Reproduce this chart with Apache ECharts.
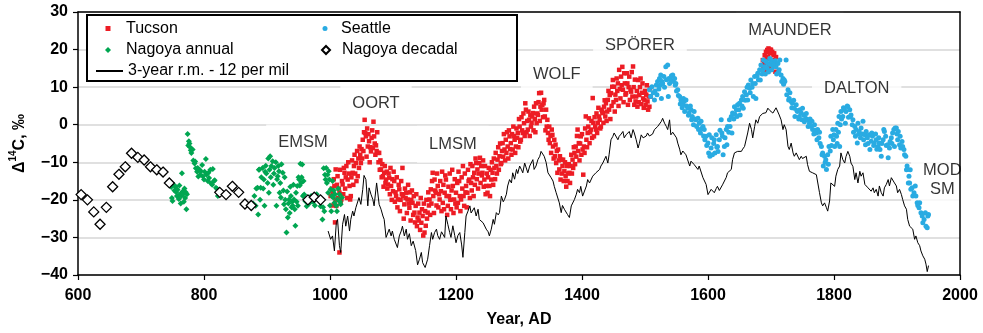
<!DOCTYPE html>
<html>
<head>
<meta charset="utf-8">
<script src="https://cdn.jsdelivr.net/npm/echarts/dist/echarts.min.js"></script>
<style>
  html, body { margin: 0; padding: 0; background: #fff; }
  #chart { width: 983px; height: 333px; }
</style>
</head>
<body>
<div id="chart"></div>
<script>
// Tucson annual (year, D14C)
const tucson = [
  [1001,-19],[1003,-17],[1004,-18.1],[1005,-21.5],[1006,-14.5],[1007,-16.3],[1008,-26],[1009,-11.9],[1009,-20],
  [1010,-21.6],[1011,-16],[1012,-13.7],[1013,-19.5],[1014,-17],[1015,-18.1],[1015,-34],[1016,-12],[1017,-20.8],[1018,-19.9],[1019,-15],
  [1020,-15.9],[1021,-18.5],[1022,-11.5],[1023,-12.8],[1024,-17],[1025,-14],[1026,-11],[1027,-19.5],[1028,-14.6],[1029,-10],
  [1030,-13],[1031,-16.3],[1032,-19.9],[1033,-19],[1034,-14],[1035,-9.5],[1036,-12.8],[1037,-16],[1038,-11],[1039,-8],
  [1040,-13],[1041,-10.2],[1042,-15],[1043,-7],[1044,-13.7],[1045,-9],[1046,-11.5],[1047,-5.8],[1048,-8],[1049,-10.2],
  [1050,-6.5],[1051,-9],[1052,-4],[1053,-7],[1054,-2],[1055,1.3],[1056,-2.2],[1057,-3.1],[1058,-8.5],[1059,-1],
  [1060,-5.8],[1061,-2.5],[1062,-4.4],[1063,-10],[1064,-6],[1065,-7.1],[1066,-3.5],[1067,-1.5],[1068,-6.2],[1069,0.8],
  [1070,-3.1],[1071,-5],[1072,-8],[1073,-5.5],[1074,-7],[1075,-2],[1076,-7.5],[1077,-10],[1078,-7.5],[1079,-12],
  [1080,-9.5],[1081,-11.9],[1082,-14],[1083,-10.5],[1084,-13.7],[1085,-16.5],[1086,-12.8],[1087,-11],[1088,-15.5],[1089,-14.6],
  [1090,-12.5],[1091,-17],[1092,-15.9],[1093,-13],[1094,-14.1],[1095,-18.5],[1096,-11.5],[1097,-16.3],[1098,-20],[1099,-14.5],
  [1100,-17.7],[1101,-12.5],[1102,-15],[1103,-20.5],[1104,-18],[1105,-19],[1106,-14],[1107,-22],[1108,-19.9],[1109,-16],
  [1110,-17.2],[1111,-23],[1112,-20],[1113,-15],[1114,-18.5],[1115,-11.5],[1116,-19],[1117,-25],[1118,-21.2],[1119,-17],
  [1120,-19.5],[1121,-18.1],[1122,-23.5],[1123,-19.9],[1124,-16],[1125,-21],[1126,-22.1],[1127,-18],[1128,-25.5],[1129,-20],
  [1130,-17.5],[1131,-20.8],[1132,-24],[1133,-19],[1134,-23.4],[1135,-26],[1136,-21.6],[1137,-18.5],[1138,-27],[1139,-24.7],
  [1140,-21],[1141,-25.5],[1142,-23.4],[1143,-28],[1144,-19.5],[1145,-26.1],[1146,-22.5],[1147,-24.3],[1148,-29.5],[1149,-21],
  [1150,-28.7],[1151,-23],[1152,-26.9],[1153,-20],[1154,-25],[1155,-23.4],[1156,-18],[1157,-21.5],[1158,-19.9],[1159,-24],
  [1160,-17.2],[1161,-21],[1162,-15],[1163,-12.8],[1164,-19],[1165,-23.5],[1166,-14.6],[1167,-17.5],[1168,-18.1],[1169,-21.5],
  [1170,-13],[1171,-16.3],[1172,-22],[1173,-18.5],[1174,-19.9],[1175,-15],[1176,-17.7],[1177,-23],[1178,-12.5],[1179,-20.8],
  [1180,-16],[1181,-22.5],[1182,-18.1],[1183,-13.5],[1184,-14.6],[1185,-19],[1186,-24],[1187,-21.6],[1188,-16.5],[1189,-19],
  [1190,-13],[1191,-20],[1192,-22.5],[1193,-17.5],[1194,-12],[1195,-16.3],[1196,-23.5],[1197,-19.9],[1198,-14.5],[1199,-21],
  [1200,-18.1],[1201,-22],[1202,-15.5],[1203,-20.8],[1204,-12.5],[1205,-15],[1206,-19],[1207,-23],[1208,-19.9],[1209,-14],
  [1210,-17],[1211,-11],[1212,-19],[1213,-21.6],[1214,-13],[1215,-18],[1216,-16.3],[1217,-22],[1218,-18.1],[1219,-12],
  [1220,-15],[1221,-14.6],[1222,-19.5],[1223,-10.5],[1224,-15.5],[1225,-17.5],[1226,-11],[1227,-14],[1228,-19],[1229,-12.8],
  [1230,-16],[1231,-9],[1232,-10.2],[1233,-14.5],[1234,-11.9],[1235,-17],[1236,-13],[1237,-10.2],[1238,-8.8],[1239,-15.5],
  [1240,-11],[1241,-13.5],[1242,-12.8],[1243,-9.5],[1244,-16.5],[1245,-14.6],[1246,-11],[1247,-18.5],[1248,-16.3],[1249,-13],
  [1250,-18.1],[1251,-14],[1252,-11.5],[1253,-16.3],[1254,-19],[1255,-12],[1256,-14.6],[1257,-10],[1258,-12.8],[1259,-16],
  [1260,-9],[1261,-11.5],[1262,-14.5],[1263,-7.5],[1264,-11],[1265,-13],[1266,-9.3],[1267,-6],[1268,-12],[1269,-8.4],
  [1270,-5],[1271,-10.5],[1272,-10.2],[1273,-7],[1274,-4.9],[1275,-8.5],[1276,-2.5],[1277,-6.6],[1278,-9.5],[1279,-4],
  [1280,-7.5],[1281,-2],[1282,-5.8],[1283,-9],[1284,-1.5],[1285,-3.1],[1286,-6.5],[1287,-4.9],[1288,-8],[1289,-2.5],
  [1290,-6.6],[1291,-0.5],[1292,-3],[1293,-4],[1294,-7.5],[1295,-5.8],[1296,-1],[1297,-3.5],[1298,-2.2],[1299,-6],
  [1300,1.5],[1301,-0.5],[1302,-4.5],[1303,-4],[1304,2],[1305,-1.5],[1306,-2.2],[1307,3],[1308,0.4],[1309,-3],
  [1310,5.7],[1311,4],[1312,-2],[1313,1],[1314,-1.3],[1315,3.5],[1316,1.3],[1317,-3],[1318,2.5],[1319,-0.5],
  [1320,0.5],[1321,2.2],[1322,3.1],[1323,-1.5],[1324,4.8],[1325,1.5],[1326,-2],[1327,5.7],[1328,0.4],[1329,3],
  [1330,2.6],[1331,6],[1332,8.4],[1333,1],[1334,4.8],[1335,8.5],[1336,4],[1337,5.3],[1338,2],[1339,5.7],
  [1340,6.6],[1341,2.2],[1342,-1.5],[1343,4],[1344,-0.5],[1345,1.3],[1346,-2.2],[1347,-4],[1348,-0.5],[1349,-4.9],
  [1350,-3],[1351,-7.5],[1352,-1.3],[1353,-2.7],[1354,-5.8],[1355,-9],[1356,-4],[1357,-8.4],[1358,-5.3],[1359,-10.2],
  [1360,-7],[1361,-12.8],[1362,-6.6],[1363,-9.5],[1364,-11.9],[1365,-8.4],[1366,-14.6],[1367,-9.3],[1368,-13],[1369,-11],
  [1370,-9.3],[1371,-15],[1372,-12.4],[1373,-10],[1374,-13.7],[1375,-16.5],[1376,-11],[1377,-15],[1378,-13],[1379,-10.5],
  [1380,-12.8],[1381,-15.5],[1382,-11],[1383,-8],[1384,-13],[1385,-9.3],[1386,-11.5],[1387,-6],[1388,-7.5],[1389,-10.5],
  [1390,-5.8],[1391,-8.5],[1392,-3],[1393,-1.3],[1394,-7],[1395,-4.9],[1396,-9.5],[1397,-5],[1398,-3.1],[1399,-8],
  [1400,-2.5],[1401,-6.6],[1402,-13.3],[1403,-5.8],[1404,-7.5],[1405,-1],[1406,2.2],[1407,-4],[1408,-6],[1409,-2.2],
  [1410,-0.5],[1411,1.7],[1412,-4.9],[1413,-2],[1414,-1.3],[1415,1],[1416,-3.5],[1417,7.1],[1418,0.5],[1419,-3.1],
  [1420,2],[1421,-0.5],[1422,-1.3],[1423,3],[1424,-2.2],[1425,0.5],[1426,4.5],[1427,2.2],[1428,1.3],[1429,-1],
  [1430,-0.5],[1431,4],[1432,3.5],[1433,3.1],[1434,0.5],[1435,4.8],[1436,6.5],[1437,2.2],[1438,5.7],[1439,1],
  [1440,3.5],[1441,6.6],[1442,9],[1443,4],[1444,7.9],[1445,1.5],[1446,8.4],[1447,5],[1448,10.1],[1449,11.9],
  [1450,6],[1451,10.1],[1452,3.5],[1453,8],[1454,6.6],[1455,12.3],[1456,9],[1457,11],[1458,5],[1459,14.6],
  [1460,9.5],[1461,7],[1462,12.8],[1463,10.5],[1464,15.4],[1465,9.3],[1466,6],[1467,13.7],[1468,11],[1469,8],
  [1470,8.4],[1471,13.7],[1472,11],[1473,5.3],[1474,10],[1475,12.8],[1476,6.6],[1477,9.3],[1478,8.8],[1479,14],
  [1480,7.5],[1481,15.5],[1482,10],[1483,5.3],[1484,12],[1485,6.2],[1486,7.5],[1487,9],[1488,4.8],[1489,11.9],
  [1490,6],[1491,7.9],[1492,10],[1493,12.3],[1494,5.5],[1495,8.5],[1496,11],[1497,7],[1498,4.5],[1499,6.6],
  [1500,9],[1501,5.3],[1502,8],[1503,10.5],[1504,6.2],[1505,4],[1506,7.5],[1507,4.8],[1508,9.7],[1509,7.5],
  [1687,17.2],[1688,15],[1689,16.3],[1690,18.5],[1691,14.6],[1692,19.4],[1693,17.5],[1694,19.9],[1695,18.1],[1696,20.3],
  [1697,15.4],[1698,19],[1699,20],[1700,19.9],[1701,14.6],[1702,19.4],[1703,17.2],[1704,18.5],[1705,19],[1706,16.3],[1707,14.1],[1708,18]
];

// Seattle annual
const seattle = [
  [1507,9.3],[1509,7.5],[1511,10.1],[1513,8.5],[1515,6.6],[1516,9],[1518,10.6],[1519,8],[1520,11.5],[1522,9.5],
  [1523,12.3],[1524,10.5],[1525,13.2],[1526,7],[1527,11.5],[1528,11],[1530,12.8],[1531,10],[1533,15.4],[1534,12],
  [1536,15.9],[1537,7.5],[1538,12.3],[1539,11],[1541,11.9],[1542,13],[1544,13.2],[1545,11.5],[1547,12.3],[1548,10.5],
  [1549,11],[1550,9],[1552,9.3],[1553,7.8],[1555,7.5],[1556,5.5],[1557,6.6],[1559,4.5],[1560,5.3],[1561,7],
  [1562,6.2],[1563,3.5],[1565,6.6],[1566,5],[1568,4.4],[1569,2.5],[1570,3.1],[1572,5],[1573,4],[1574,1.3],
  [1575,2.2],[1577,0],[1578,3.5],[1579,1.5],[1581,1.3],[1582,-0.5],[1584,1.7],[1585,-1.3],[1586,0.4],[1588,-2.2],
  [1589,0.9],[1590,-1],[1592,-0.5],[1593,-3],[1594,-1.3],[1595,-4],[1597,-3.1],[1598,-5.5],[1600,-4.9],[1601,-7.5],
  [1602,-2.7],[1603,-8.4],[1605,-6.2],[1606,-3.5],[1607,-8],[1609,-5],[1610,-4],[1611,-7.5],[1613,-2.7],[1614,-6],
  [1615,-5.8],[1616,-7.1],[1618,-4],[1619,-1.5],[1621,1.3],[1622,-2.2],[1623,-3.1],[1624,-8],[1626,-5.8],[1627,-3.5],
  [1629,-1.3],[1630,-5.3],[1631,-0.5],[1633,-2],[1634,1.3],[1635,-0.5],[1637,2.2],[1638,-2.2],[1639,3.1],[1641,1.5],
  [1642,4.8],[1643,2.8],[1645,4],[1646,2.2],[1647,5.3],[1649,4],[1650,5.7],[1651,2.6],[1653,6.6],[1654,5],
  [1655,7.5],[1656,4.4],[1658,8.8],[1659,6.5],[1661,8],[1662,10],[1663,6.6],[1664,10.6],[1666,9.7],[1667,8.5],
  [1668,11.9],[1670,10],[1671,11],[1672,7.5],[1674,12.8],[1675,11],[1676,7],[1678,13],[1679,13.7],[1680,12],
  [1682,14.6],[1683,11.9],[1684,15.9],[1686,13.5],[1687,14.6],[1688,17.2],[1690,15.4],[1691,13.5],[1692,16.8],[1694,15],
  [1695,16.3],[1696,14],[1698,17.6],[1699,16],[1700,17.2],[1701,14.6],[1703,16.8],[1704,15.5],[1705,15.9],[1707,17],
  [1708,15.4],[1709,13.5],[1711,16.3],[1712,14],[1713,14.6],[1714,17.2],[1716,13.2],[1717,11.5],[1719,12.3],[1720,10.8],
  [1721,11.9],[1722,11.5],[1724,17.2],[1725,8],[1727,9.3],[1728,6.6],[1729,7],[1730,8.5],[1732,6.2],[1733,4.5],
  [1734,5.7],[1736,6.5],[1737,4.4],[1738,2.2],[1740,5.3],[1741,3.8],[1742,3.5],[1744,1.5],[1745,2.2],[1746,4],
  [1748,3.1],[1749,1.3],[1750,4.4],[1752,2.6],[1753,0.8],[1755,1.7],[1756,3],[1758,1.3],[1759,-0.5],[1761,0.4],
  [1762,1.5],[1764,-0.5],[1765,0.9],[1766,-1.3],[1768,-2.5],[1769,0],[1770,-1.5],[1772,-2.2],[1773,-4],[1774,-1.3],
  [1776,-3.5],[1777,-2],[1778,-5],[1780,-5.8],[1781,-8],[1782,-7.5],[1783,-11],[1785,-8.4],[1786,-10],[1787,-9.3],
  [1788,-11.9],[1790,-8],[1791,-10.5],[1792,-5.8],[1794,-7],[1795,-3.1],[1796,-5.5],[1798,-1.3],[1799,-4],[1800,-2.7],
  [1801,-5.8],[1803,-1.3],[1804,-3.1],[1805,-5],[1806,0.4],[1807,-2],[1808,2.2],[1809,-5.8],[1810,0],[1811,3.5],
  [1812,1.5],[1814,2.2],[1815,4.5],[1816,4],[1818,0.4],[1819,3.5],[1821,5],[1822,4.8],[1823,2],[1825,4],
  [1826,2.2],[1827,2.6],[1829,0],[1830,1.3],[1831,-2],[1833,-0.5],[1834,-3.1],[1835,-1.3],[1837,-4.9],[1838,0.4],
  [1839,-2.5],[1840,-1.8],[1842,-3.5],[1843,-0.9],[1845,-2.5],[1846,0.9],[1847,-4],[1849,-2.7],[1850,-5.3],[1851,-1.8],
  [1853,-3.5],[1854,-5],[1856,-2.7],[1857,-6.6],[1859,-4.4],[1860,-2.2],[1861,-3.1],[1863,-5.5],[1864,-4.9],[1866,-2.5],
  [1867,-4],[1868,-6.5],[1870,-5.8],[1871,-3.5],[1872,-4.9],[1873,-6.6],[1875,-8.4],[1876,-5],[1878,-4],[1879,-1.3],
  [1880,-1.8],[1882,-3.1],[1883,-5.5],[1885,-5.3],[1886,-8.8],[1888,-6.2],[1889,-4.5],[1891,-3.5],[1892,-5],[1893,-2.2],
  [1895,-1.3],[1896,-5.8],[1897,-0.9],[1899,-0.9],[1900,-2.5],[1901,-4],[1902,-1.8],[1904,-5.3],[1905,-3.1],[1906,-6.2],
  [1908,-4.5],[1909,-5.8],[1911,-6.6],[1912,-8],[1914,-8.4],[1915,-12],[1916,-11],[1917,-11.9],[1918,-15.5],[1919,-13.7],
  [1920,-15.5],[1921,-12],[1922,-17.2],[1924,-16.8],[1925,-19],[1927,-18.1],[1929,-16.3],[1930,-19],[1932,-20.8],[1933,-21.5],
  [1935,-22.1],[1936,-20.8],[1938,-23.4],[1940,-24.3],[1941,-26.1],[1943,-25.2],[1945,-23.4],[1946,-27],[1948,-27.4],[1949,-24.3],[1950,-23.9]
];

// Nagoya annual
const nagoyaAnnual = [
  [748,-16.6],[749,-19.5],[750,-20.3],[752,-16],[753,-17.5],[755,-16.5],[756,-18],[757,-19],[758,-17.3],[760,-19.8],
  [761,-16.2],[762,-18.5],[763,-21],[764,-19],[765,-12.9],[766,-17.8],[767,-18.5],[768,-20.5],[769,-17],[770,-19.5],
  [771,-18],[772,-22.5],[773,-18.5],
  [774,-2.5],[775,-5.5],[776,-4.4],[777,-5],[778,-6],[779,-6.8],[780,-7.5],
  [782,-6.6],[783,-9.5],[785,-10.3],[786,-9.8],[787,-11.6],[789,-12.5],[790,-11.5],[791,-13.8],[793,-12],[794,-13.3],
  [795,-12.4],[797,-10.7],[798,-13.7],[800,-14.6],[801,-12.5],[803,-9.1],[804,-13.3],[806,-15],[807,-12.8],[808,-14.2],
  [810,-12],[811,-15.6],[813,-16],[814,-11.8],[816,-15],[817,-14.8],[819,-16.8],[821,-17.1],[822,-19],
  [878,-21],[880,-19],[882,-21.6],[883,-17],[885,-16.8],[886,-23.9],[887,-12],[888,-11.9],[889,-20],[890,-16.8],
  [891,-14],[893,-11.5],[894,-17],[895,-14.6],[896,-21.6],[897,-12.5],[898,-10.9],[899,-13],[901,-15.5],[902,-9],
  [903,-18.1],[904,-12],[905,-8.4],[906,-14],[907,-11],[909,-9.7],[910,-16],[911,-13],[912,-11.5],[914,-10],
  [915,-21.6],[916,-14.5],[917,-13.7],[918,-11],[919,-12.4],[920,-18.1],[921,-15.5],[922,-19.4],[923,-10.5],[925,-12.8],
  [926,-17.5],[927,-21.2],[928,-14],[929,-20],[930,-22.5],[931,-28.7],[932,-17.8],[933,-24.7],[934,-21],[935,-19.9],
  [936,-23.5],[937,-16.5],[938,-19],[939,-22],[940,-20.5],[941,-21.6],[942,-16],[943,-19.9],[944,-22.5],[945,-26.9],
  [946,-18.1],[947,-20.5],[948,-16.3],[949,-21.6],[950,-14],[951,-14.6],[952,-16.2],[953,-10.4],[954,-15.5],[955,-14],
  [956,-10.6],[957,-19],[958,-15],
  [959,-18.6],[961,-20.4],[963,-21.7],[965,-19.5],[967,-21],[970,-19],[973,-20.5],[976,-21.5],[979,-18.5],[982,-20],
  [985,-21.7],[988,-25.2],[989,-22],[990,-11.6],[991,-23],[992,-13.3],[993,-14.6],[994,-11.5],[995,-15.5],[996,-13.3],
  [997,-18.1],[998,-12.4],[999,-14.6],[1000,-21.5],[1001,-17.2],[1002,-23],[1003,-19],[1004,-15],[1005,-19.4],[1006,-17.5],
  [1007,-20.8],[1008,-18.5],[1010,-21.6],[1011,-23],[1012,-19.9],[1013,-17],[1015,-18.5],[1016,-20.5],[1017,-21.2],[1019,-19.4]
];

// Nagoya decadal
const nagoyaDecadal = [
  [605,-18.6],[615,-20],[625,-23.2],[635,-26.5],[645,-22],[655,-16.5],[665,-13.2],[675,-11.2],[685,-7.6],[695,-8.7],
  [705,-9.4],[715,-11.2],[725,-12],[735,-12.6],[745,-15.5],
  [825,-18],[835,-18.6],[845,-16.4],[855,-18],[865,-21.1],[875,-21.5],
  [965,-20],[975,-19.3],[985,-20]
];

// 3-year running mean minus 12 per mil
const runningMean = [
  [997,-28.3],[1001,-30.5],[1004,-29.6],[1007,-33.6],[1010,-26.1],[1012,-25.2],[1015,-32.2],[1017,-34],[1020,-26.5],[1023,-23.9],
  [1025,-27],[1028,-24.3],[1031,-28.3],[1033,-25.2],[1036,-23],[1038,-24.3],[1041,-22.1],[1044,-22.5],[1046,-19.4],[1049,-21.2],
  [1052,-17.2],[1054,-13.5],[1057,-14.6],[1060,-21.6],[1062,-16.8],[1065,-18.5],[1068,-19.9],[1070,-21.6],[1074,-15.5],[1078,-21.2],
  [1081,-22.5],[1084,-24.3],[1086,-25.2],[1089,-30],[1092,-30.5],[1094,-27.8],[1097,-29.6],[1099,-28.3],[1102,-30.5],[1107,-32.7],
  [1110,-29.6],[1113,-28.3],[1115,-27],[1118,-29.6],[1121,-27.8],[1123,-30.5],[1126,-29],[1129,-32.2],[1132,-31],[1136,-33.5],
  [1139,-37.3],[1142,-35.8],[1145,-34],[1147,-36.7],[1151,-38],[1155,-35.8],[1158,-32.2],[1161,-28.7],[1163,-30.5],[1166,-28.7],
  [1169,-27.8],[1171,-29.5],[1174,-30.5],[1177,-28.5],[1179,-28.7],[1182,-30],[1184,-24.3],[1187,-26.5],[1190,-28.7],[1192,-30],
  [1195,-26.9],[1198,-29.5],[1200,-31.4],[1203,-29.5],[1206,-28.7],[1209,-32],[1211,-35.3],[1214,-28.7],[1216,-24.3],[1219,-23],
  [1222,-21.6],[1224,-23.5],[1227,-23.4],[1229,-22.1],[1232,-24.3],[1235,-22.5],[1237,-25.2],[1240,-24.7],[1243,-26.1],[1246,-26.5],
  [1248,-27.8],[1251,-28.5],[1253,-29.6],[1256,-27.8],[1259,-25.2],[1261,-26.5],[1264,-23.4],[1267,-24],[1269,-23.4],[1272,-19],
  [1275,-20.5],[1277,-19.9],[1280,-18.5],[1282,-16.3],[1285,-14.6],[1288,-15.5],[1290,-12.8],[1293,-14.5],[1296,-11.9],[1298,-13],
  [1301,-11],[1304,-12],[1306,-12.8],[1309,-10.2],[1311,-10.5],[1314,-12.8],[1317,-11],[1319,-11],[1322,-9.3],[1324,-11.9],
  [1327,-11],[1330,-9.3],[1333,-8.4],[1335,-7.1],[1338,-6.6],[1340,-8.4],[1343,-10],[1346,-12.8],[1349,-12.5],[1351,-14.1],
  [1354,-15],[1356,-16.4],[1359,-18.1],[1361,-18.5],[1364,-20.8],[1367,-23.4],[1369,-21.5],[1372,-22.5],[1375,-23],[1377,-23.9],
  [1380,-24.7],[1383,-21.6],[1385,-22],[1388,-19.9],[1391,-18.5],[1393,-17.2],[1396,-18.1],[1398,-16.4],[1401,-19],[1404,-19],
  [1407,-16.3],[1409,-14.6],[1412,-15.5],[1414,-15.9],[1417,-13.7],[1420,-13.7],[1422,-12.8],[1425,-12.8],[1428,-11.9],[1430,-11],
  [1433,-10.2],[1435,-9.7],[1438,-8.4],[1441,-10.2],[1443,-8],[1446,-4],[1449,-3.1],[1451,-2.2],[1454,-2.7],[1457,-4],
  [1459,-3.1],[1462,-2.5],[1465,-1.8],[1467,-3.5],[1470,-2.7],[1473,-2.7],[1475,-1.8],[1478,-3.5],[1481,-1.3],[1483,-2.2],
  [1486,-4],[1489,-6.2],[1491,-5],[1494,-2.7],[1497,-3.5],[1499,-4],[1502,-3],[1504,-2.2],[1507,-3],[1510,-3.5],
  [1512,-2.5],[1515,-1.3],[1518,-1.5],[1520,-0.5],[1523,0],[1526,0.9],[1528,1.7],[1531,0.4],[1534,-0.5],[1536,-1.3],
  [1539,1.3],[1541,-2.7],[1544,-2],[1547,-1.8],[1550,-3.5],[1552,-4.9],[1555,-6.5],[1557,-8],[1560,-7],[1563,-7.5],
  [1565,-8],[1568,-8.4],[1571,-11],[1573,-9.7],[1576,-10],[1578,-10.6],[1581,-11],[1584,-11.9],[1586,-11],[1589,-11.5],
  [1592,-14.1],[1594,-14.6],[1597,-15.9],[1600,-18.6],[1602,-19],[1605,-17.2],[1608,-16.8],[1610,-18.1],[1613,-17],[1615,-16.4],
  [1618,-17.5],[1621,-17.7],[1623,-16],[1626,-15.5],[1629,-14],[1631,-12.8],[1634,-13],[1637,-11.9],[1639,-9.3],[1642,-7.5],
  [1645,-8],[1647,-7.1],[1650,-7.5],[1653,-7.1],[1655,-6.5],[1658,-5.8],[1661,-6.2],[1663,-2.2],[1666,0.4],[1669,-1.3],
  [1671,-3.5],[1674,-0.5],[1676,1.3],[1679,0.4],[1682,2.2],[1684,2.6],[1687,3],[1690,3.5],[1692,3.2],[1695,4.4],
  [1698,3.8],[1700,4],[1703,3.1],[1706,3.5],[1708,4.5],[1711,4],[1713,2.6],[1716,1.3],[1719,-1.3],[1721,0],
  [1724,-1.3],[1727,-5.8],[1729,-6.6],[1732,-4.9],[1735,-7.5],[1737,-8.4],[1740,-7.5],[1743,-7.1],[1745,-9.3],[1748,-8.4],
  [1750,-9],[1753,-9.3],[1756,-8.4],[1758,-10.6],[1761,-12.4],[1764,-11.9],[1766,-12.8],[1769,-12.4],[1772,-13.3],[1774,-13.7],
  [1777,-18.1],[1780,-20.8],[1782,-21.6],[1785,-20.8],[1788,-22.1],[1790,-23],[1793,-20.3],[1795,-15.5],[1798,-15.9],[1801,-16.4],
  [1803,-13.7],[1806,-11.9],[1809,-11],[1811,-7.5],[1814,-9.3],[1817,-10.2],[1819,-8.5],[1822,-7.1],[1825,-8.4],[1827,-10.2],
  [1830,-11.1],[1833,-14.6],[1835,-12.8],[1838,-15.5],[1841,-12.4],[1843,-13.7],[1846,-12.8],[1849,-15.9],[1851,-15.5],[1854,-16.8],
  [1856,-16.3],[1859,-17.7],[1862,-16.8],[1864,-18.1],[1867,-17.2],[1870,-19],[1872,-16.3],[1875,-18.1],[1878,-19],[1880,-16.8],
  [1883,-15.9],[1886,-14.6],[1888,-16.3],[1891,-14.1],[1893,-13.7],[1896,-15.5],[1899,-16.3],[1901,-18.1],[1904,-17.2],[1907,-18.6],
  [1909,-19.9],[1912,-21.6],[1915,-22.5],[1917,-25.2],[1920,-27],[1923,-27.4],[1925,-27.8],[1928,-30.5],[1930,-29.6],[1933,-31.4],
  [1936,-32.2],[1938,-33.6],[1941,-34.9],[1944,-35.8],[1946,-37.1],[1948,-39.1],[1950,-37.5]
];

// solar minimum annotations: text, year, value
const minima = [
  ['EMSM', 957, -4.85],
  ['OORT', 1073, 5.7],
  ['LMSM', 1195, -5.2],
  ['WOLF', 1360, 13.4],
  ['SPÖRER', 1492, 21.2],
  ['MAUNDER', 1730, 25.2],
  ['DALTON', 1836, 9.7],
  ['MOD\nSM', 1972, -14.6]
];

const FONT = '"Liberation Sans", Arial, Helvetica, sans-serif';
const chart = echarts.init(document.getElementById('chart'));

function legendItem(name, left, top, w, h, gap) {
  return {
    data: [name], left: left, top: top, orient: 'vertical', padding: 0,
    itemWidth: w, itemHeight: h, selectedMode: false, z: 10,
    textStyle: { fontFamily: FONT, fontSize: 16, color: '#000', padding: [0, 0, 0, gap] }
  };
}

const option = {
  animation: false,
  backgroundColor: '#fff',
  grid: { left: 78, right: 23, top: 12, bottom: 57 },
  xAxis: [
    {
      type: 'value', min: 600, max: 2000, interval: 200,
      name: 'Year, AD', nameLocation: 'middle', nameGap: 37,
      nameTextStyle: { fontFamily: FONT, fontSize: 16, fontWeight: 'bold', color: '#000' },
      axisLine: { onZero: false, lineStyle: { color: '#000', width: 1.5 } },
      axisTick: { show: true, length: 5, lineStyle: { color: '#000', width: 1.2 } },
      axisLabel: {
        fontFamily: FONT, fontSize: 16, fontWeight: 'bold', color: '#000', margin: 13,
        formatter: v => String(v)
      },
      splitLine: { show: false }
    },
    {
      type: 'value', position: 'top', min: 600, max: 2000, z: 6,
      axisLine: { show: true, onZero: false, lineStyle: { color: '#000', width: 1.5 } },
      axisTick: { show: false }, axisLabel: { show: false }, splitLine: { show: false }
    }
  ],
  yAxis: [
    {
      type: 'value', min: -40, max: 30, interval: 10,
      name: '{b|Δ}{s|14}{b|C, ‰}', nameLocation: 'middle', nameGap: 50,
      nameTextStyle: {
        rich: {
          b: { fontFamily: FONT, fontSize: 16, fontWeight: 'bold', color: '#000', lineHeight: 20, verticalAlign: 'bottom' },
          s: { fontFamily: FONT, fontSize: 10, fontWeight: 'bold', color: '#000', lineHeight: 20, verticalAlign: 'top' }
        }
      },
      axisLine: { show: true, onZero: false, lineStyle: { color: '#000', width: 1.5 } },
      axisTick: { show: true, length: 5, lineStyle: { color: '#000', width: 1.2 } },
      axisLabel: {
        fontFamily: FONT, fontSize: 16, fontWeight: 'bold', color: '#000', margin: 10,
        formatter: v => String(v).replace('-', '\u2212')
      },
      splitLine: { show: true, lineStyle: { color: '#d6d6d6', width: 1.5 } }
    },
    {
      type: 'value', position: 'right', min: -40, max: 30, z: 6,
      axisLine: { show: true, onZero: false, lineStyle: { color: '#000', width: 1.5 } },
      axisTick: { show: false }, axisLabel: { show: false }, splitLine: { show: false }
    }
  ],
  legend: [
    legendItem('Tucson', 105.5, 20.5, 5, 5, 10.5),
    legendItem('Nagoya annual', 105, 42, 6, 6, 10),
    legendItem('3-year r.m. - 12 per mil', 95, 63, 27, 1, 0),
    legendItem('Seattle', 322.5, 20.5, 5, 5, 8.5),
    legendItem('Nagoya decadal', 321, 42, 8, 8, 7)
  ],
  graphic: [
    {
      type: 'rect', z: 5, silent: true,
      shape: { x: 87, y: 15, width: 430, height: 66 },
      style: { fill: '#fff', stroke: '#000', lineWidth: 2 }
    }
  ],
  series: [
    {
      name: 'minima', type: 'scatter', z: 1, silent: true,
      symbolSize: 1, itemStyle: { color: 'rgba(0,0,0,0)' },
      data: minima.map(m => ({ name: m[0], value: [m[1], m[2]] })),
      label: {
        show: true, position: 'inside', formatter: '{b}',
        fontFamily: FONT, fontSize: 16.5, color: '#000', lineHeight: 19,
        backgroundColor: '#fff', padding: [9, 12]
      }
    },
    {
      name: 'Tucson', type: 'scatter', z: 2,
      symbol: 'rect', symbolSize: 4.5,
      itemStyle: { color: '#ED1C24', opacity: 1 },
      data: tucson
    },
    {
      name: 'Seattle', type: 'scatter', z: 2,
      symbol: 'circle', symbolSize: 5,
      itemStyle: { color: '#29ABE2', opacity: 1 },
      data: seattle
    },
    {
      name: 'Nagoya annual', type: 'scatter', z: 2,
      symbol: 'diamond', symbolSize: 6,
      itemStyle: { color: '#00A651', opacity: 1 },
      data: nagoyaAnnual
    },
    {
      name: 'Nagoya decadal', type: 'scatter', z: 3,
      symbol: 'diamond', symbolSize: 10,
      itemStyle: { color: '#fff', borderColor: '#000', borderWidth: 1.3, opacity: 1 },
      data: nagoyaDecadal
    },
    {
      name: '3-year r.m. - 12 per mil', type: 'line', z: 3,
      symbol: 'none', showSymbol: false,
      lineStyle: { color: '#000', width: 1 },
      itemStyle: { color: '#000' },
      data: runningMean
    }
  ]
};

chart.setOption(option);
</script>
</body>
</html>
